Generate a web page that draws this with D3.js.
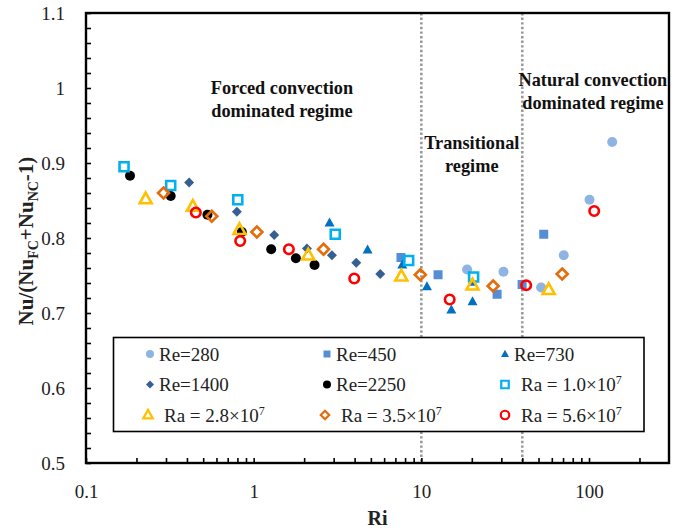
<!DOCTYPE html>
<html>
<head>
<meta charset="utf-8">
<script src="https://cdn.jsdelivr.net/npm/d3@7"></script>
<style>
  body { margin: 0; background: #fff; }
  text { font-family: "Liberation Serif", "Times New Roman", serif; }
</style>
</head>
<body>
<svg id="chart" width="685" height="530"></svg>
<script>
// ---- data: [Ri, Nu/(Nu_FC+Nu_NC-1)] ----
const re280  = [[18.75,0.758],[30.9,0.755],[51.8,0.734],[70.7,0.777],[100.7,0.851],[137.5,0.928]];
const re450  = [[7.56,0.774],[12.58,0.751],[28.3,0.725],[39.9,0.738],[53.7,0.805]];
const re730  = [[2.835,0.820],[4.78,0.784],[7.7,0.764],[10.8,0.735],[15.1,0.704],[20.2,0.715],[20.2,0.741]];
const re1400 = [[0.412,0.874],[0.794,0.835],[1.326,0.804],[2.078,0.786],[2.93,0.777],[4.09,0.767],[5.69,0.752]];
const re2250 = [[0.183,0.883],[0.320,0.856],[0.530,0.831],[0.850,0.808],[1.272,0.785],[1.786,0.773],[2.307,0.764]];
const ra10   = [[0.1686,0.895],[0.320,0.870],[0.804,0.851],[3.066,0.805],[8.4,0.770],[20.5,0.748]];
const ra28   = [[0.227,0.852],[0.434,0.842],[0.823,0.811],[2.115,0.777],[7.6,0.749],[20.2,0.737],[57.5,0.731]];
const ra35   = [[0.290,0.860],[0.5625,0.829],[1.045,0.808],[2.61,0.785],[9.86,0.751],[26.8,0.736],[69.2,0.752]];
const ra56   = [[0.452,0.834],[0.831,0.796],[1.622,0.785],[3.98,0.746],[14.76,0.718],[42.2,0.737],[107.4,0.836]];

const seriesLabels = ["Re=280","Re=450","Re=730","Re=1400","Re=2250",
                      ["Ra = 1.0×10","7"],["Ra = 2.8×10","7"],["Ra = 3.5×10","7"],["Ra = 5.6×10","7"]];
const xTickLabels = [0.1, 1, 10, 100];
const yTickLabels = [0.5, 0.6, 0.7, 0.8, 0.9, 1, 1.1];
const regimeBounds = [10, 40];
const regimeNotes = [
  { lines: ["Forced convection", "dominated regime"], at: [1.475, 1.0] },
  { lines: ["Transitional", "regime"], at: [20.0, 0.927] },
  { lines: ["Natural convection", "dominated regime"], at: [105.5, 1.011] }
];

// ---- marker styles ----
const styles = [
  { shape: "circle",   size: 10, fill: "#8db4e2" },
  { shape: "square",   size: 9,  fill: "#558ed5" },
  { shape: "triangle", size: 10, fill: "#0070c0" },
  { shape: "diamond",  size: 10, fill: "#376092" },
  { shape: "circle",   size: 10, fill: "#000000" },
  { shape: "square",   size: 9,  stroke: "#00b0f0" },
  { shape: "triangle", size: 12, stroke: "#ffc000" },
  { shape: "diamond",  size: 11, stroke: "#e46c0a" },
  { shape: "circle",   size: 9.5, stroke: "#ff0000" }
];
const seriesData = [re280, re450, re730, re1400, re2250, ra10, ra28, ra35, ra56];

function shapePath(shape, s) {
  const h = s / 2;
  switch (shape) {
    case "circle":
      return `M${h},0A${h},${h} 0 1,1 ${-h},0A${h},${h} 0 1,1 ${h},0Z`;
    case "square":
      return `M${-h},${-h}H${h}V${h}H${-h}Z`;
    case "triangle": {
      const th = s * 0.9;
      return `M0,${-th*0.6}L${h},${th*0.4}L${-h},${th*0.4}Z`;
    }
    case "diamond":
      return `M0,${-h}L${h},0L0,${h}L${-h},0Z`;
  }
}
function styleMarker(sel, st, sw) {
  sel.attr("fill", st.fill || "none")
     .attr("stroke", st.stroke || "none")
     .attr("stroke-width", st.stroke ? sw : 0);
}

const svg = d3.select("#chart");
const L = 86, R = 669, T = 13, B = 463;
const x = d3.scaleLog().domain([0.1, 300]).range([L, R]);
const y = d3.scaleLinear().domain([0.5, 1.1]).range([B, T]);

// regime boundaries
svg.append("g").selectAll("line").data(regimeBounds).join("line")
  .attr("x1", d => x(d)).attr("x2", d => x(d))
  .attr("y1", T).attr("y2", B)
  .attr("stroke", "#9a9a9a").attr("stroke-width", 2.6)
  .attr("stroke-dasharray", "2.4,2.2");

// x axis (log), ticks pointing inward
const xMinor = x.ticks().filter(d => d <= 200);
const xAxis = d3.axisBottom(x).tickValues(xMinor).tickSizeInner(-5).tickSizeOuter(0)
  .tickFormat(d => xTickLabels.includes(+d.toPrecision(3)) ? d3.format("~g")(d) : "");
const gx = svg.append("g").attr("transform", `translate(0,${B})`).call(xAxis);
gx.select(".domain").remove();
gx.selectAll(".tick line").attr("stroke", "#000").attr("stroke-width", 1.6);
gx.selectAll(".tick text").attr("y", 28).attr("dy", "0.35em")
  .attr("font-size", 19).attr("fill", "#222")
  .style("font-family", '"Liberation Serif", serif');

// y axis, minor ticks every 0.02
const yMinor = d3.range(0, 31).map(i => 0.5 + i * 0.02);
const yAxis = d3.axisLeft(y).tickValues(yMinor).tickSizeInner(-5).tickSizeOuter(0)
  .tickFormat(d => {
    const m = yTickLabels.find(v => Math.abs(v - d) < 1e-6);
    return m !== undefined ? String(m) : "";
  });
const gy = svg.append("g").attr("transform", `translate(${L},0)`).call(yAxis);
gy.select(".domain").remove();
gy.selectAll(".tick line").attr("stroke", "#000").attr("stroke-width", 1.6);
gy.selectAll(".tick text").attr("x", -21).attr("dy", "0.35em")
  .attr("font-size", 19).attr("fill", "#222")
  .style("font-family", '"Liberation Serif", serif');

// frame
svg.append("rect").attr("x", L).attr("y", T).attr("width", R - L).attr("height", B - T)
  .attr("fill", "none").attr("stroke", "#000").attr("stroke-width", 2.4);

// regime notes
regimeNotes.forEach(n => {
  const t = svg.append("text")
    .attr("text-anchor", "middle").attr("font-weight", "bold").attr("font-size", 18.3)
    .attr("fill", "#111");
  n.lines.forEach((ln, i) => {
    t.append("tspan").attr("x", x(n.at[0])).attr("y", y(n.at[1]) + i * 22.5)
      .attr("dy", "0.35em").text(ln);
  });
});

// points
seriesData.forEach((data, i) => {
  const st = styles[i];
  svg.append("g").selectAll("path").data(data).join("path")
    .attr("transform", d => `translate(${x(d[0])},${y(d[1])})`)
    .attr("d", shapePath(st.shape, st.size))
    .call(styleMarker, st, 2.6);
});

// legend
const lg = svg.append("g");
lg.append("rect").attr("x", 113.5).attr("y", 337.5).attr("width", 530.5).attr("height", 94)
  .attr("fill", "#fff").attr("stroke", "#000").attr("stroke-width", 1.6);
const colX = [150, 327, 505];
const rowY = [354, 384.5, 415];
const legendSizes = [8, 7, 8, 8, 8, 7.5, 9.5, 8.5, 8.5];
seriesLabels.forEach((lab, i) => {
  const r = Math.floor(i / 3), c = i % 3;
  const st = styles[i];
  const hollow = !!st.stroke;
  const mx = colX[c] - (hollow && c < 2 ? 2 : 0);
  lg.append("path")
    .attr("transform", `translate(${mx},${rowY[r]})`)
    .attr("d", shapePath(st.shape, legendSizes[i]))
    .call(styleMarker, st, 2.2);
  const tx = hollow ? mx + 16 : colX[c] + 9;
  const t = lg.append("text").attr("x", tx).attr("y", rowY[r]).attr("dy", "0.35em")
    .attr("font-size", 19).attr("fill", "#222");
  if (Array.isArray(lab)) {
    t.append("tspan").text(lab[0]);
    t.append("tspan").attr("dy", -7).attr("font-size", 12).text(lab[1]);
  } else {
    t.text(lab);
  }
});

// axis titles
svg.append("text").attr("x", (L + R) / 2).attr("y", 518).attr("dy", "0.35em")
  .attr("text-anchor", "middle").attr("font-weight", "bold").attr("font-size", 20)
  .attr("fill", "#222").text("Ri");

const yt = svg.append("text")
  .attr("transform", "translate(26,241) rotate(-90)")
  .attr("text-anchor", "middle").attr("dy", "0.35em")
  .attr("font-weight", "bold").attr("font-size", 21).attr("fill", "#222");
yt.append("tspan").text("Nu/(Nu");
yt.append("tspan").attr("dy", 5).attr("font-size", 14).text("FC");
yt.append("tspan").attr("dy", -5).text("+Nu");
yt.append("tspan").attr("dy", 5).attr("font-size", 14).text("NC");
yt.append("tspan").attr("dy", -5).text("-1)");
</script>
</body>
</html>
